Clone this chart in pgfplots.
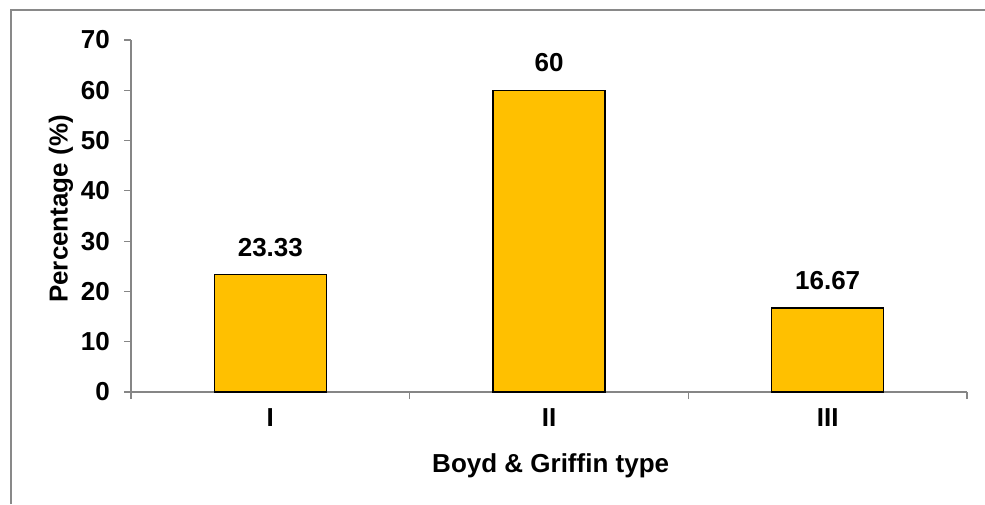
\documentclass[border=0pt]{standalone}
\usepackage{pgfplots}
\pgfplotsset{compat=1.18}
\usepackage{fontspec}
\setmainfont{Liberation Sans}
\definecolor{barfill}{HTML}{FFC000}
\definecolor{axisgray}{HTML}{868686}
\definecolor{framegray}{HTML}{898989}

\begin{document}
\begin{tikzpicture}[x=0.75pt,y=0.75pt]
  \useasboundingbox (0,0) rectangle (985,504);
  % chart frame (top and left edges)
  \draw[framegray, line width=1.5pt] (11,0) -- (11,493.5) -- (985,493.5);
  \begin{axis}[
    at={(98.25pt,84pt)}, anchor=south west,
    scale only axis,
    width=627pt, height=264pt,
    xmin=-0.5, xmax=2.5,
    ymin=0, ymax=70,
    ytick={0,10,...,70},
    xtick={-0.5,0.5,1.5,2.5},
    xticklabels={},
    extra x ticks={0,1,2},
    extra x tick labels={I,II,III},
    extra x tick style={major tick length=0pt, tick style={draw=none}},
    axis x line*=bottom,
    axis y line*=left,
    axis line style={axisgray, line width=0.9pt},
    tick style={axisgray, line width=0.9pt},
    tick align=outside,
    major tick length=5.25pt,
    font=\fontsize{19.5}{23}\selectfont\bfseries,
    /pgf/number format/assume math mode=true,
    ticklabel style={font=\fontsize{19.5}{23}\selectfont\bfseries},
    yticklabel style={anchor=east, inner sep=0pt, xshift=-10.5pt},
    xticklabel style={anchor=north, inner sep=0pt, yshift=-12.5pt},
    ylabel={Percentage (\%)},
    ylabel style={at={(axis description cs:-0.0837,0.52)}, anchor=center, rotate=0},
    xlabel={Boyd \& Griffin type},
    xlabel style={at={(axis description cs:0.502,0)}, anchor=base, yshift=-60pt},
    ybar, bar width=84pt, bar shift=0pt,
    nodes near coords={\pgfmathprintnumber[fixed,precision=2]{\pgfplotspointmeta}},
    every node near coord/.append style={anchor=south, inner sep=0pt, yshift=13pt,
      font=\fontsize{19.5}{23}\selectfont\bfseries, text=black},
    clip=false,
  ]
    \addplot[fill=barfill, draw=black, line width=1.1pt]
      coordinates {(0,23.33) (1,60) (2,16.67)};
  \end{axis}
\end{tikzpicture}
\end{document}
